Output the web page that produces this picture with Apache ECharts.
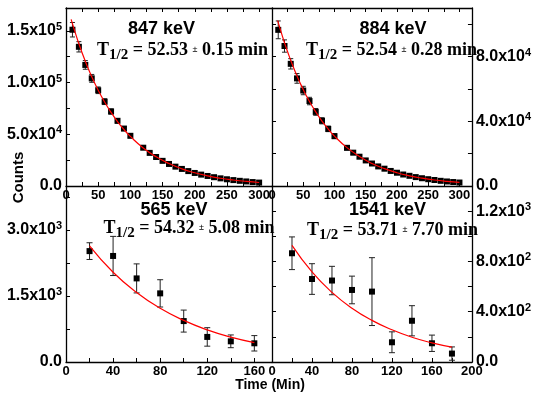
<!DOCTYPE html>
<html><head><meta charset="utf-8">
<script src="https://cdn.jsdelivr.net/npm/echarts@6/dist/echarts.min.js"></script>
<style>html,body{margin:0;padding:0;background:#fff}#c{width:534px;height:396px}</style>
</head><body><div id="c"></div>
<script>
// ---------- data ----------
const tlTime = [10,20,30,40,50,60,70,80,90,100,120,130,140,150,160,170,180,190,200,210,220,230,240,250,260,270,280,290,300];
const tlCounts = [151000,134500,117000,104000,92500,81500,72000,63000,55500,48500,37000,32000,28000,24300,21300,18700,16500,14400,12600,11000,9700,8500,7400,6500,5700,5000,4400,3800,3300];
const tlErr = [7000,5000,4200,3800,3200,2800,2500,2200,2000,1800,1500,1400,1300,1200,1100,1000,950,900,850,800,750,700,650,600,550,500,480,450,420];
const tlFitTime = [8,10,20,30,40,50,60,70,80,90,100,120,140,160,180,200,220,240,260,280,300];
const tlFitCounts = [161000,156900,137500,120500,105600,92600,81100,71100,62300,54600,47900,36800,28200,21700,16600,12800,9800,7500,5800,4450,3400];

const trTime = [10,20,30,40,50,60,70,80,90,100,120,130,140,150,160,170,180,190,200,210,220,230,240,250,260,270,280,290,300];
const trCounts = [96500,86500,75500,66500,59000,52500,45800,40300,35300,30800,23600,20600,18100,15800,13900,12100,10700,9300,8200,7100,6300,5500,4800,4200,3700,3200,2800,2450,2150];
const trErr = [5500,3800,3200,3000,2600,2300,2100,1900,1700,1500,1300,1200,1100,1000,950,900,850,800,750,700,650,600,550,500,480,450,420,400,380];
const trFitTime = [9,10,20,30,40,50,60,70,80,90,100,120,140,160,180,200,220,240,260,280,300];
const trFitCounts = [102300,101000,88500,77600,68000,59600,52200,45800,40100,35200,30800,23700,18200,13900,10700,8200,6300,4850,3700,2850,2200];

const blTime = [20,40,60,80,100,120,140,160];
const blCounts = [2520,2410,1900,1560,930,570,470,425];
const blErr = [190,445,330,310,250,210,145,175];
const blFitTime = [20,40,60,80,100,120,140,160];
const blFitCounts = [2640,2040,1580,1220,945,730,565,440];

const brTime = [20,40,60,80,100,120,140,160,180];
const brCounts = [865,660,648,573,560,157,328,149,67];
const brErr = [130,122,113,110,270,83,120,65,53];
const brFitTime = [20,40,60,80,100,120,140,160,180];
const brFitCounts = [928,717,554,428,331,256,197,152,118];

const energies = ['847 keV','884 keV','565 keV','1541 keV'];
const halfLives = ['52.53','52.54','54.32','53.71'];
const halfLifeErrs = ['0.15','0.28','5.08','7.70'];

const tlXTicks = [0,50,100,150,200,250,300];
const trXTicks = [0,50,100,150,200,250,300];
const blXTicks = [0,40,80,120,160];
const brXTicks = [0,40,80,120,160,200];
const tlYTicks = [0,50000,100000,150000];
const tlYLabels = ['0.0','5.0x10^4','1.0x10^5','1.5x10^5'];
const trYTicks = [0,40000,80000];
const trYLabels = ['0.0','4.0x10^4','8.0x10^4'];
const blYTicks = [0,1500,3000];
const blYLabels = ['0.0','1.5x10^3','3.0x10^3'];
const brYTicks = [0,400,800,1200];
const brYLabels = ['0.0','4.0x10^2','8.0x10^2','1.2x10^3'];

// ---------- styling helpers ----------
const FONT = '"Liberation Sans", Arial, sans-serif';
const SERIF = '"Liberation Serif", "Times New Roman", serif';
const LINE = {show:true, onZero:false, lineStyle:{color:'#000', width:1.3}};
const TICK_IN = {show:true, inside:true, length:4, lineStyle:{color:'#000', width:1}};

function yFmt(values, labels) {
  return function (v) {
    const i = values.indexOf(v);
    if (i < 0) return '';
    const p = labels[i].split('^');
    return p.length > 1 ? '{m|' + p[0] + '}{s|' + p[1] + '}' : '{m|' + p[0] + '}';
  };
}
function xFmt(values) {
  return function (v) { return values.indexOf(v) < 0 ? '' : String(v); };
}
const yRich = {
  m:{fontSize:16, fontWeight:'bold', fontFamily:FONT, color:'#000'},
  s:{fontSize:11, fontWeight:'bold', fontFamily:FONT, color:'#000', padding:[0,0,8,0]}
};

function xAxes(grid, max, step, ticks, withTop) {
  const arr = [{
    gridIndex:grid, type:'value', min:0, max:max, interval:step, position:'bottom',
    axisLine:LINE, axisTick:TICK_IN, splitLine:{show:false},
    axisLabel:{show:true, margin:3, formatter:xFmt(ticks), fontSize:13, fontWeight:'bold', fontFamily:FONT, color:'#000', showMinLabel:true, showMaxLabel:true}
  }];
  if (withTop) arr.push({
    gridIndex:grid, type:'value', min:0, max:max, interval:step, position:'top',
    axisLine:LINE, axisTick:TICK_IN, splitLine:{show:false}, axisLabel:{show:false}
  });
  return arr;
}
function yAxes(grid, max, step, ticks, labels, labelSide, withOther) {
  const arr = [{
    gridIndex:grid, type:'value', min:0, max:max, interval:step, position:labelSide,
    axisLine:LINE, axisTick:TICK_IN, splitLine:{show:false},
    axisLabel:{show:true, margin:4, formatter:yFmt(ticks, labels), rich:yRich, showMinLabel:true, showMaxLabel:true}
  }];
  if (withOther) arr.push({
    gridIndex:grid, type:'value', min:0, max:max, interval:step, position:labelSide === 'left' ? 'right' : 'left',
    axisLine:LINE, axisTick:TICK_IN, splitLine:{show:false}, axisLabel:{show:false}
  });
  return arr;
}

const xs = [], ys = [];
const xIdx = [], yIdx = [];
function addX(a){ xIdx.push(xs.length); a.forEach(o=>xs.push(o)); }
function addY(a){ yIdx.push(ys.length); a.forEach(o=>ys.push(o)); }
addX(xAxes(0, 320, 25, tlXTicks, true));
addY(yAxes(0, 172000, 25000, tlYTicks, tlYLabels, 'left', false));
addX(xAxes(1, 320, 25, trXTicks, true));
addY(yAxes(1, 110000, 20000, trYTicks, trYLabels, 'right', true));
addX(xAxes(2, 175, 20, blXTicks, false));
addY(yAxes(2, 4000, 750, blYTicks, blYLabels, 'left', false));
addX(xAxes(3, 200, 20, brXTicks, false));
addY(yAxes(3, 1400, 200, brYTicks, brYLabels, 'right', true));

function errRender(cap) {
  return function (params, api) {
    const x = api.value(0), y = api.value(1), e = api.value(2);
    const hi = api.coord([x, y + e]), lo = api.coord([x, y - e]);
    const st = {stroke:'#222', lineWidth:1};
    return {type:'group', children:[
      {type:'line', shape:{x1:hi[0], y1:hi[1], x2:lo[0], y2:lo[1]}, style:st},
      {type:'line', shape:{x1:hi[0]-cap, y1:hi[1], x2:hi[0]+cap, y2:hi[1]}, style:st},
      {type:'line', shape:{x1:lo[0]-cap, y1:lo[1], x2:lo[0]+cap, y2:lo[1]}, style:st}
    ]};
  };
}
function zip2(a, b){ return a.map((v,i)=>[v, b[i]]); }
function zip3(a, b, c){ return a.map((v,i)=>[v, b[i], c[i]]); }

const panels = [
  [tlTime, tlCounts, tlErr, tlFitTime, tlFitCounts, 6, 2.5],
  [trTime, trCounts, trErr, trFitTime, trFitCounts, 6, 2.5],
  [blTime, blCounts, blErr, blFitTime, blFitCounts, 6, 3],
  [brTime, brCounts, brErr, brFitTime, brFitCounts, 6, 3]
];
const series = [];
panels.forEach((p, i) => {
  const xi = xIdx[i], yi = yIdx[i];
  series.push({type:'custom', xAxisIndex:xi, yAxisIndex:yi, renderItem:errRender(p[6]), data:zip3(p[0], p[1], p[2]), z:2, silent:true});
  series.push({type:'scatter', xAxisIndex:xi, yAxisIndex:yi, symbol:'rect', symbolSize:p[5], itemStyle:{color:'#000', opacity:1}, data:zip2(p[0], p[1]), z:3});
  series.push({type:'line', xAxisIndex:xi, yAxisIndex:yi, smooth:true, showSymbol:false, lineStyle:{color:'#ff0000', width:1.2}, data:zip2(p[3], p[4]), z:4});
});

const tRich = {
  t:{fontSize:18, fontWeight:'bold', fontFamily:SERIF, color:'#000'},
  sub:{fontSize:15, fontWeight:'bold', fontFamily:SERIF, color:'#000', padding:[10,0,0,0]},
  pm:{fontSize:9, fontFamily:FONT, color:'#555'}
};
function hlText(i){ return '{t|T}{sub|1/2}{t| = ' + halfLives[i] + ' }{pm|±}{t| ' + halfLifeErrs[i] + ' min}'; }
const titlePos = [[161.5, 29, 182.5, 50], [393, 29, 391.5, 50], [174, 210, 189, 228], [387.5, 210.5, 392.5, 230]];
const graphic = [];
titlePos.forEach((p, i) => {
  graphic.push({type:'text', x:p[0], y:p[1], z:10, style:{text:energies[i], font:'bold 18px ' + FONT, fill:'#000', align:'center', verticalAlign:'middle'}});
  graphic.push({type:'text', x:p[2], y:p[3], z:10, style:{text:hlText(i), rich:tRich, align:'center', verticalAlign:'middle'}});
});
graphic.push({type:'text', x:19, y:177.5, rotation:Math.PI/2, style:{text:'Counts', font:'bold 15px ' + FONT, fill:'#000', align:'center', verticalAlign:'middle'}});
graphic.push({type:'text', x:270, y:385, style:{text:'Time (Min)', font:'bold 14px ' + FONT, fill:'#000', align:'center', verticalAlign:'middle'}});

const chart = echarts.init(document.getElementById('c'), null, {renderer:'canvas'});
chart.setOption({
  animation:false,
  backgroundColor:'#fff',
  grid:[
    {left:66, top:8, width:206, height:178},
    {left:272, top:8, width:210, height:178},
    {left:66, top:186, width:206, height:176},
    {left:272, top:186, width:210, height:176}
  ],
  xAxis:xs, yAxis:ys, series:series, graphic:graphic
});
</script></body></html>
